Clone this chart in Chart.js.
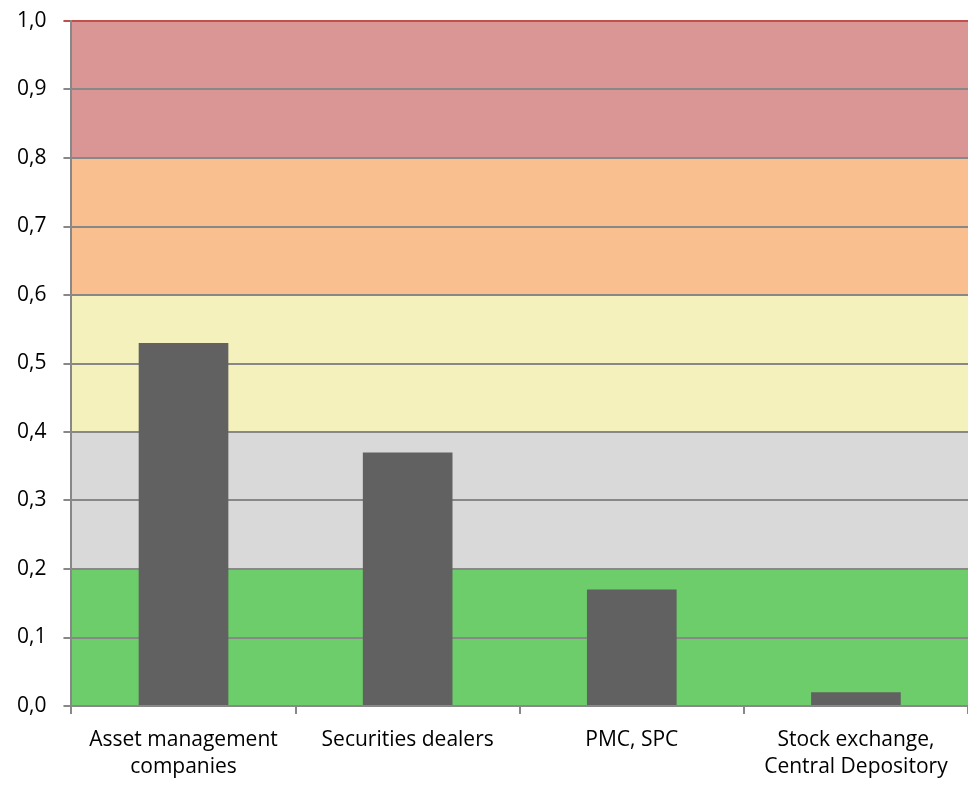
<!DOCTYPE html>
<html>
<head>
<meta charset="utf-8">
<script src="https://cdn.jsdelivr.net/npm/chart.js@4/dist/chart.umd.min.js"></script>
<style>
  body{margin:0;background:#fff;}
  #wrap{width:968px;height:785px;}
</style>
</head>
<body>
<div id="wrap"><canvas id="riskChart" width="968" height="785"></canvas></div>
<script>
const categories=[["Asset management","companies"],["Securities dealers"],["PMC, SPC"],["Stock exchange,","Central Depository"]];
const riskValues=[0.53,0.37,0.17,0.02];

// background risk zones
const bandFrom=[0,0.2,0.4,0.6,0.8];
const bandTo=[0.2,0.4,0.6,0.8,1.0];
const bandColors=["#6ccd6a","#d9d9d9","#f5f1bd","#f9bf8f","#d99694"];

const bandsPlugin={
  id:'bands',
  beforeDraw(chart){
    const ctx=chart.ctx, area=chart.chartArea, y=chart.scales.y;
    ctx.save();
    for(let i=0;i<bandFrom.length;i++){
      const top=y.getPixelForValue(bandTo[i]);
      const bot=y.getPixelForValue(bandFrom[i]);
      ctx.fillStyle=bandColors[i];
      ctx.fillRect(area.left,top,area.right-area.left,bot-top);
    }
    ctx.restore();
  }
};

const fmt=v=>v.toFixed(1).replace('.',',');

new Chart(document.getElementById('riskChart'),{
  type:'bar',
  data:{
    labels:categories,
    datasets:[{
      data:riskValues,
      backgroundColor:"#616161",
      borderWidth:0,
      barPercentage:0.8,
      categoryPercentage:0.5
    }]
  },
  options:{
    responsive:false,
    animation:false,
    layout:{padding:{top:0,right:0,left:0,bottom:0}},
    plugins:{legend:{display:false},tooltip:{enabled:false}},
    scales:{
      x:{
        afterFit:s=>{s.height=79;},
        grid:{offset:true,drawOnChartArea:false,color:"#888",lineWidth:2,tickLength:8},
        border:{color:"#888",width:2},
        ticks:{color:"#000",font:{family:"Open Sans",size:21,lineHeight:1.3},padding:12,maxRotation:0}
      },
      y:{
        afterFit:s=>{s.paddingTop=21;},
        grid:{color:ctx=>ctx.tick && ctx.tick.value===1?"#c0504d":"#888",lineWidth:2,tickLength:8},
        border:{color:"#888",width:2},
        min:0,max:1,
        ticks:{stepSize:0.1,callback:fmt,color:"#000",font:{family:"Open Sans",size:21},padding:17}
      }
    }
  },
  plugins:[bandsPlugin]
});
</script>
</body>
</html>
